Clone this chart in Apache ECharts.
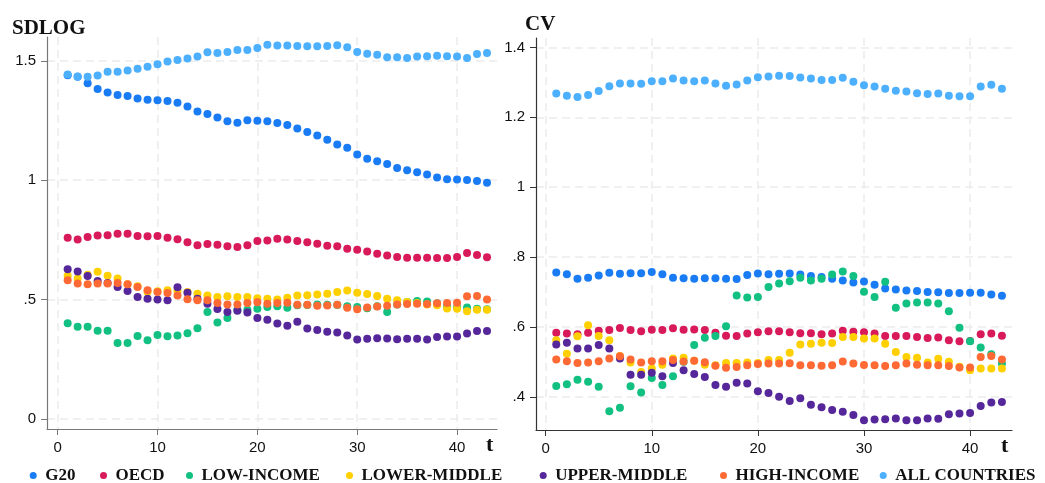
<!DOCTYPE html>
<html>
<head>
<meta charset="utf-8">
<script src="https://cdn.jsdelivr.net/npm/echarts@6/dist/echarts.min.js"></script>
<style>html,body{margin:0;padding:0;background:#fff}#c{width:1045px;height:483px}</style>
</head>
<body>
<div id="c"></div>
<script>
const periods = [1,2,3,4,5,6,7,8,9,10,11,12,13,14,15,16,17,18,19,20,21,22,23,24,25,26,27,28,29,30,31,32,33,34,35,36,37,38,39,40,41,42,43];
const seriesNames = ['G20','OECD','LOW-INCOME','LOWER-MIDDLE','UPPER-MIDDLE','HIGH-INCOME','ALL COUNTRIES'];
const xTicks = [0,10,20,30,40];
const sdlogTicks = [0,0.5,1,1.5];
const cvTicks = [0.4,0.6,0.8,1,1.2,1.4];

const sdG20 = [1.44,1.434,1.406,1.382,1.367,1.357,1.353,1.342,1.337,1.335,1.332,1.325,1.309,1.288,1.277,1.263,1.247,1.241,1.251,1.249,1.247,1.24,1.231,1.217,1.202,1.187,1.17,1.15,1.136,1.108,1.09,1.08,1.068,1.051,1.042,1.033,1.024,1.012,1.004,1.003,1.001,0.997,0.99];
const sdOECD = [0.759,0.752,0.762,0.769,0.77,0.776,0.776,0.766,0.765,0.766,0.759,0.753,0.74,0.728,0.733,0.73,0.724,0.72,0.728,0.745,0.748,0.755,0.752,0.745,0.74,0.734,0.726,0.723,0.713,0.709,0.702,0.692,0.685,0.678,0.675,0.675,0.675,0.674,0.674,0.678,0.695,0.687,0.677];
const sdLow = [0.401,0.386,0.386,0.37,0.37,0.318,0.318,0.348,0.33,0.352,0.347,0.35,0.359,0.38,0.448,0.404,0.423,0.456,0.458,0.462,0.469,0.472,0.466,0.476,0.477,0.479,0.478,0.477,0.472,0.469,0.464,0.472,0.448,0.48,0.49,0.494,0.492,0.485,0.472,0.468,0.467,0.462,0.46];
const sdLowerMid = [0.6,0.588,0.604,0.617,0.6,0.588,0.564,0.556,0.532,0.535,0.539,0.536,0.532,0.525,0.517,0.511,0.514,0.511,0.511,0.506,0.504,0.5,0.508,0.517,0.518,0.521,0.525,0.532,0.538,0.529,0.523,0.515,0.504,0.497,0.49,0.486,0.48,0.476,0.463,0.462,0.451,0.458,0.458];
const sdUpperMid = [0.627,0.618,0.599,0.578,0.57,0.553,0.536,0.511,0.504,0.5,0.497,0.552,0.529,0.504,0.483,0.461,0.448,0.453,0.446,0.423,0.416,0.4,0.39,0.407,0.379,0.373,0.365,0.362,0.35,0.333,0.336,0.338,0.337,0.334,0.336,0.336,0.333,0.343,0.345,0.345,0.358,0.369,0.369];
const sdHigh = [0.581,0.567,0.564,0.567,0.567,0.57,0.564,0.553,0.539,0.532,0.528,0.517,0.501,0.497,0.497,0.486,0.48,0.48,0.486,0.489,0.483,0.486,0.487,0.478,0.478,0.474,0.475,0.478,0.466,0.46,0.467,0.471,0.474,0.479,0.482,0.483,0.482,0.485,0.486,0.487,0.514,0.515,0.5];
const sdAll = [1.443,1.435,1.434,1.439,1.454,1.454,1.46,1.467,1.475,1.486,1.497,1.504,1.51,1.518,1.536,1.533,1.537,1.546,1.546,1.554,1.568,1.564,1.564,1.562,1.561,1.561,1.562,1.565,1.557,1.537,1.53,1.526,1.515,1.515,1.512,1.518,1.519,1.521,1.519,1.518,1.512,1.529,1.533];

const cvG20 = [0.756,0.751,0.738,0.741,0.747,0.755,0.752,0.754,0.754,0.757,0.751,0.741,0.739,0.738,0.739,0.739,0.738,0.737,0.749,0.753,0.751,0.752,0.753,0.75,0.746,0.743,0.738,0.733,0.727,0.73,0.721,0.71,0.707,0.704,0.703,0.7,0.699,0.697,0.697,0.698,0.698,0.693,0.689];
const cvOECD = [0.583,0.581,0.579,0.583,0.589,0.591,0.597,0.591,0.588,0.592,0.591,0.596,0.592,0.593,0.591,0.583,0.575,0.574,0.581,0.585,0.588,0.588,0.585,0.582,0.582,0.579,0.581,0.589,0.586,0.585,0.581,0.574,0.574,0.574,0.571,0.568,0.57,0.562,0.559,0.56,0.579,0.581,0.575];
const cvLow = [0.431,0.436,0.449,0.443,0.429,0.359,0.369,0.43,0.412,0.454,0.434,0.459,0.5,0.548,0.569,0.574,0.602,0.69,0.684,0.686,0.714,0.724,0.731,0.741,0.733,0.738,0.75,0.759,0.746,0.701,0.686,0.729,0.655,0.667,0.67,0.67,0.667,0.645,0.598,0.559,0.541,0.522,0.495];
const cvLowerMid = [0.562,0.523,0.573,0.605,0.574,0.562,0.517,0.498,0.471,0.481,0.492,0.51,0.512,0.503,0.492,0.49,0.497,0.497,0.498,0.497,0.505,0.505,0.526,0.55,0.552,0.555,0.554,0.571,0.571,0.567,0.567,0.552,0.528,0.514,0.512,0.498,0.509,0.5,0.486,0.476,0.481,0.481,0.481];
const cvUpperMid = [0.55,0.555,0.538,0.538,0.548,0.538,0.51,0.463,0.463,0.469,0.459,0.497,0.476,0.465,0.457,0.434,0.429,0.44,0.438,0.416,0.411,0.4,0.388,0.396,0.377,0.37,0.362,0.357,0.348,0.333,0.335,0.336,0.338,0.333,0.333,0.338,0.337,0.35,0.352,0.354,0.374,0.384,0.385];
const cvHigh = [0.507,0.502,0.497,0.498,0.502,0.51,0.516,0.507,0.498,0.502,0.502,0.505,0.501,0.503,0.499,0.489,0.483,0.485,0.49,0.494,0.495,0.495,0.496,0.49,0.49,0.489,0.49,0.501,0.495,0.491,0.49,0.488,0.49,0.495,0.492,0.49,0.49,0.488,0.484,0.484,0.514,0.517,0.507];
const cvAll = [1.268,1.262,1.258,1.264,1.275,1.289,1.297,1.297,1.296,1.303,1.303,1.311,1.305,1.303,1.305,1.297,1.29,1.294,1.305,1.315,1.317,1.319,1.318,1.314,1.311,1.307,1.307,1.313,1.302,1.292,1.288,1.282,1.276,1.274,1.269,1.267,1.268,1.262,1.26,1.26,1.288,1.293,1.282];

const colors = ['#1a7cf5','#d81a5a','#12c081','#ffd000','#55279a','#ff6a34','#4db0ff'];
const sdlogData = [sdG20, sdOECD, sdLow, sdLowerMid, sdUpperMid, sdHigh, sdAll];
const cvData = [cvG20, cvOECD, cvLow, cvLowerMid, cvUpperMid, cvHigh, cvAll];

const sansFont = 'Liberation Sans';
const serifFont = 'Liberation Serif';
const fmtY = v => { if (v === 0) return '0'; let s = String(+v.toFixed(2)); return s.replace(/^0\./, '.'); };
const gridLine = { show: true, lineStyle: { color: '#ebebeb', width: 1.5, type: [8, 5] } };

function xAxisCfg(gridIndex, min, max, lineColor, nameGap) {
  return {
    type: 'value', gridIndex, min, max,
    name: 't', nameLocation: 'end', nameGap,
    nameTextStyle: { fontFamily: serifFont, fontWeight: 'bold', fontSize: 22, color: '#111', verticalAlign: 'top', padding: [5, 0, 0, 0] },
    axisLine: { show: true, onZero: false, lineStyle: { color: lineColor, width: 1.2 } },
    axisTick: { show: true, length: 6, customValues: xTicks, lineStyle: { color: lineColor } },
    axisLabel: { customValues: xTicks, margin: 11, fontFamily: sansFont, fontSize: 15, color: '#111' },
    splitLine: gridLine
  };
}
function yAxisCfg(gridIndex, min, max, ticks, lineColor) {
  return {
    type: 'value', gridIndex, min, max,
    axisLine: { show: true, onZero: false, lineStyle: { color: lineColor, width: 1.2 } },
    axisTick: { show: true, length: 6, customValues: ticks, lineStyle: { color: lineColor } },
    axisLabel: { customValues: ticks, margin: 11, fontFamily: sansFont, fontSize: 15, color: '#111', formatter: fmtY },
    splitLine: gridLine
  };
}

const legendCenters = [31.7, 102, 188, 348, 541.7, 722, 881.7];
const legends = seriesNames.map((n, i) => ({
  data: [n], left: legendCenters[i] - 7, top: 462,
  icon: 'circle', itemWidth: 14, itemHeight: 7,
  textStyle: { fontFamily: serifFont, fontWeight: 'bold', fontSize: 17, color: '#111' }
}));

const series = [];
sdlogData.forEach((arr, i) => {
  series.push({ name: seriesNames[i], type: 'scatter', xAxisIndex: 0, yAxisIndex: 0, symbolSize: 8,
    itemStyle: { color: colors[i], opacity: 1 }, data: periods.map((t, k) => [t, arr[k]]) });
});
cvData.forEach((arr, i) => {
  series.push({ name: seriesNames[i], type: 'scatter', xAxisIndex: 1, yAxisIndex: 1, symbolSize: 8,
    itemStyle: { color: colors[i], opacity: 1 }, data: periods.map((t, k) => [t, arr[k]]) });
});

const chart = echarts.init(document.getElementById('c'), null, { renderer: 'canvas' });
chart.setOption({
  animation: false,
  color: colors,
  title: [
    { text: 'SDLOG', left: 12, top: 18, padding: 0, textStyle: { fontFamily: serifFont, fontWeight: 'bold', fontSize: 21, color: '#111' } },
    { text: 'CV', left: 525, top: 14, padding: 0, textStyle: { fontFamily: serifFont, fontWeight: 'bold', fontSize: 21, color: '#111' } }
  ],
  legend: legends,
  grid: [
    { left: 47, top: 37, width: 450, height: 392 },
    { left: 536, top: 38, width: 476, height: 392 }
  ],
  xAxis: [
    xAxisCfg(0, -1.07, 44.0, '#777', -11),
    xAxisCfg(1, -0.91, 43.95, '#333', -11)
  ],
  yAxis: [
    yAxisCfg(0, -0.042, 1.6, sdlogTicks, '#777'),
    yAxisCfg(1, 0.305, 1.427, cvTicks, '#333')
  ],
  series
});
</script>
</body>
</html>
